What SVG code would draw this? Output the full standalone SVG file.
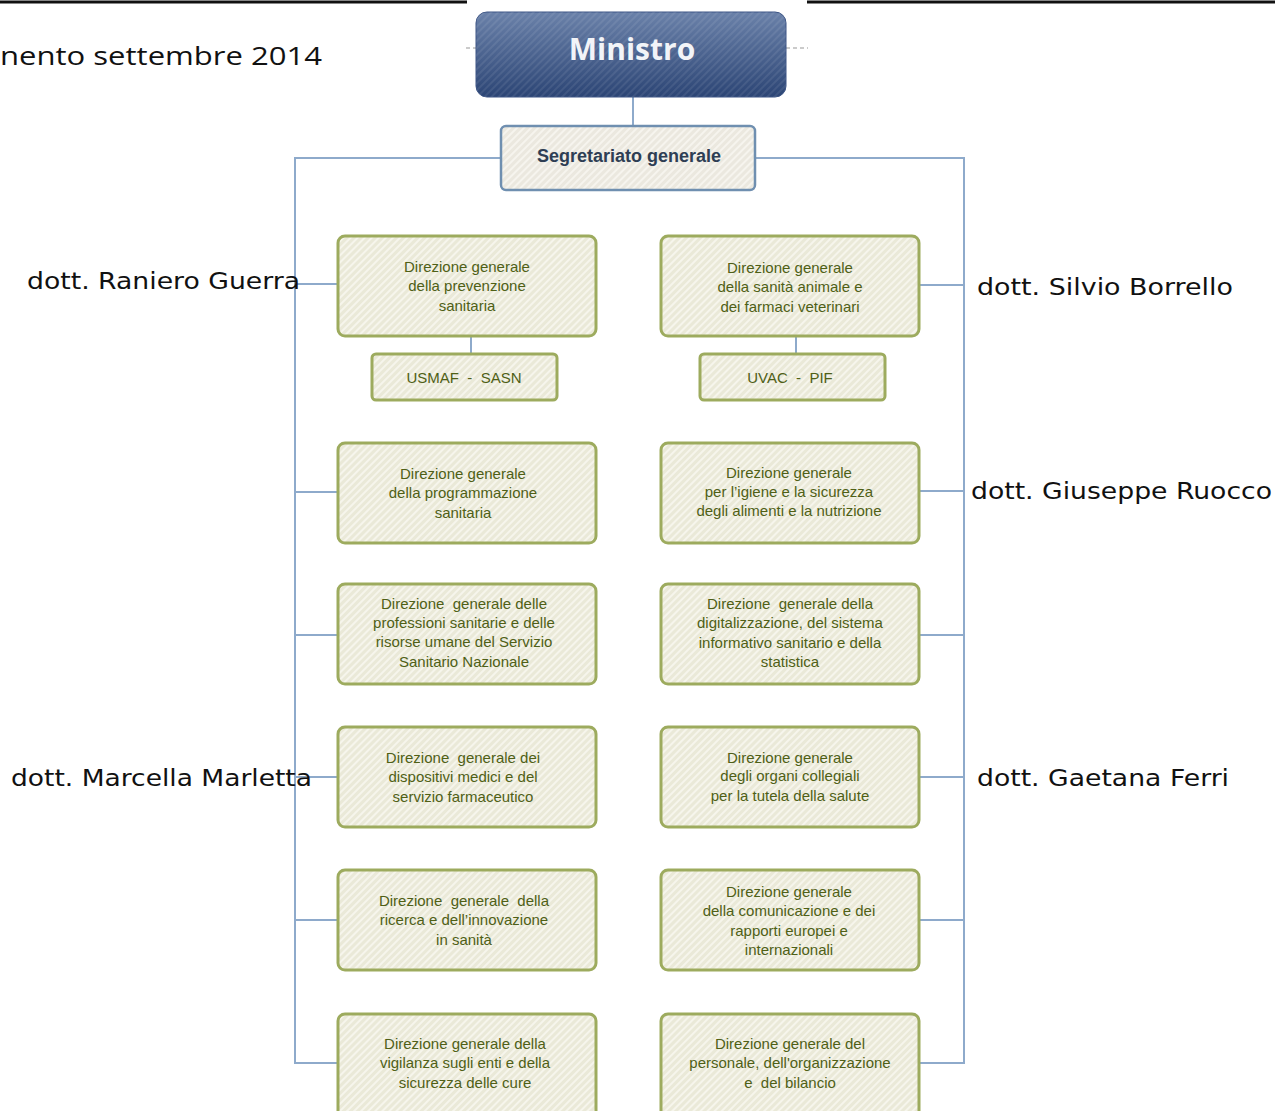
<svg xmlns="http://www.w3.org/2000/svg" width="1275" height="1111" viewBox="0 0 1275 1111">
<defs>
  <pattern id="hatch" width="5" height="5" patternUnits="userSpaceOnUse" patternTransform="rotate(45)">
    <rect width="5" height="5" fill="#eae9d8"/>
    <rect width="2" height="5" fill="#f6f5ec"/>
  </pattern>
  <pattern id="hatchS" width="5" height="5" patternUnits="userSpaceOnUse" patternTransform="rotate(45)">
    <rect width="5" height="5" fill="#ebe8df"/>
    <rect width="2" height="5" fill="#f6f4ee"/>
  </pattern>
  <linearGradient id="gMin" x1="0" y1="0" x2="0" y2="1">
    <stop offset="0" stop-color="#6a81a9"/>
    <stop offset="1" stop-color="#2c4575"/>
  </linearGradient>
  <pattern id="hatchM" width="5" height="5" patternUnits="userSpaceOnUse" patternTransform="rotate(45)">
    <rect width="2" height="5" fill="#ffffff" fill-opacity="0.08"/>
  </pattern>
</defs>
<style>
  .box { fill: url(#hatch); stroke: #9dab5e; stroke-width: 3; }
  .t { font-family: "Liberation Sans", Arial, sans-serif; font-size: 15px; fill: #4f6016; text-anchor: middle; white-space: pre; }
  .lab { font-family: "DejaVu Sans", Verdana, sans-serif; font-size: 23px; fill: #111; }
  .con { stroke: #8eaacb; stroke-width: 2; fill: none; }
</style>
<rect width="1275" height="1111" fill="#ffffff"/>
<g id="topbar">
  <line x1="0" y1="2" x2="467" y2="2" stroke="#111" stroke-width="3"/>
  <line x1="807" y1="2" x2="1275" y2="2" stroke="#111" stroke-width="3"/>
</g>
<text id="title" x="0" y="65" font-family="'Open Sans', 'Liberation Sans', sans-serif" font-size="26" fill="#111" textLength="322" lengthAdjust="spacingAndGlyphs">nento settembre 2014</text>

<g id="connectors">
  <line x1="466" y1="48" x2="476" y2="48" stroke="#bbbbbb" stroke-width="1.5" stroke-dasharray="4,3"/>
  <line x1="786" y1="48" x2="808" y2="48" stroke="#bbbbbb" stroke-width="1.5" stroke-dasharray="4,3"/>
  <line class="con" x1="633" y1="97" x2="633" y2="126"/>
  <polyline class="con" points="500,158 295,158 295,1063 338,1063"/>
  <polyline class="con" points="755,158 964,158 964,1063 920,1063"/>
  <line class="con" x1="295" y1="284" x2="338" y2="284"/>
  <line class="con" x1="295" y1="492" x2="338" y2="492"/>
  <line class="con" x1="295" y1="635" x2="338" y2="635"/>
  <line class="con" x1="295" y1="777" x2="338" y2="777"/>
  <line class="con" x1="295" y1="920" x2="338" y2="920"/>
  <line class="con" x1="919" y1="285" x2="964" y2="285"/>
  <line class="con" x1="919" y1="491" x2="964" y2="491"/>
  <line class="con" x1="919" y1="635" x2="964" y2="635"/>
  <line class="con" x1="919" y1="777" x2="964" y2="777"/>
  <line class="con" x1="919" y1="920" x2="964" y2="920"/>
  <line class="con" x1="471" y1="336" x2="471" y2="354"/>
  <line class="con" x1="796" y1="336" x2="796" y2="354"/>
</g>

<g id="ministro">
  <rect x="476" y="12" width="310" height="85" rx="11" fill="url(#gMin)" stroke="#3d5585" stroke-width="1"/>
  <rect x="476" y="12" width="310" height="85" rx="11" fill="url(#hatchM)"/>
  <text x="632" y="60" font-family="'Open Sans', 'Liberation Sans', sans-serif" font-size="30" font-weight="bold" fill="#f2f4f8" text-anchor="middle">Ministro</text>
</g>

<g id="segretariato">
  <rect x="501" y="126" width="254" height="64" rx="5" fill="url(#hatchS)" stroke="#6f8fb0" stroke-width="2.5"/>
  <text x="629" y="162" font-family="'Liberation Sans', Arial, sans-serif" font-size="18" font-weight="bold" fill="#2e3e54" text-anchor="middle">Segretariato generale</text>
</g>

<g id="dg-prevenzione">
  <rect class="box" x="338" y="236" width="258" height="100" rx="7"/>
  <text class="t" x="467" y="272">Direzione generale</text>
  <text class="t" x="467" y="291">della prevenzione</text>
  <text class="t" x="467" y="311">sanitaria</text>
</g>
<g id="dg-sanita-animale">
  <rect class="box" x="661" y="236" width="258" height="100" rx="7"/>
  <text class="t" x="790" y="273">Direzione generale</text>
  <text class="t" x="790" y="292">della sanità animale e</text>
  <text class="t" x="790" y="312">dei farmaci veterinari</text>
</g>
<g id="usmaf">
  <rect class="box" x="372" y="354" width="185" height="46" rx="4"/>
  <text class="t" x="464" y="383">USMAF  -  SASN</text>
</g>
<g id="uvac">
  <rect class="box" x="700" y="354" width="185" height="46" rx="4"/>
  <text class="t" x="790" y="383">UVAC  -  PIF</text>
</g>
<g id="dg-programmazione">
  <rect class="box" x="338" y="443" width="258" height="100" rx="7"/>
  <text class="t" x="463" y="479">Direzione generale</text>
  <text class="t" x="463" y="498">della programmazione</text>
  <text class="t" x="463" y="518">sanitaria</text>
</g>
<g id="dg-igiene">
  <rect class="box" x="661" y="443" width="258" height="100" rx="7"/>
  <text class="t" x="789" y="478">Direzione generale</text>
  <text class="t" x="789" y="497">per l’igiene e la sicurezza</text>
  <text class="t" x="789" y="516">degli alimenti e la nutrizione</text>
</g>
<g id="dg-professioni">
  <rect class="box" x="338" y="584" width="258" height="100" rx="7"/>
  <text class="t" x="464" y="609">Direzione  generale delle</text>
  <text class="t" x="464" y="628">professioni sanitarie e delle</text>
  <text class="t" x="464" y="647">risorse umane del Servizio</text>
  <text class="t" x="464" y="667">Sanitario Nazionale</text>
</g>
<g id="dg-digitalizzazione">
  <rect class="box" x="661" y="584" width="258" height="100" rx="7"/>
  <text class="t" x="790" y="609">Direzione  generale della</text>
  <text class="t" x="790" y="628">digitalizzazione, del sistema</text>
  <text class="t" x="790" y="648">informativo sanitario e della</text>
  <text class="t" x="790" y="667">statistica</text>
</g>
<g id="dg-dispositivi">
  <rect class="box" x="338" y="727" width="258" height="100" rx="7"/>
  <text class="t" x="463" y="763">Direzione  generale dei</text>
  <text class="t" x="463" y="782">dispositivi medici e del</text>
  <text class="t" x="463" y="802">servizio farmaceutico</text>
</g>
<g id="dg-organi">
  <rect class="box" x="661" y="727" width="258" height="100" rx="7"/>
  <text class="t" x="790" y="763">Direzione generale</text>
  <text class="t" x="790" y="781">degli organi collegiali</text>
  <text class="t" x="790" y="801">per la tutela della salute</text>
</g>
<g id="dg-ricerca">
  <rect class="box" x="338" y="870" width="258" height="100" rx="7"/>
  <text class="t" x="464" y="906">Direzione  generale  della</text>
  <text class="t" x="464" y="925">ricerca e dell’innovazione</text>
  <text class="t" x="464" y="945">in sanità</text>
</g>
<g id="dg-comunicazione">
  <rect class="box" x="661" y="870" width="258" height="100" rx="7"/>
  <text class="t" x="789" y="897">Direzione generale</text>
  <text class="t" x="789" y="916">della comunicazione e dei</text>
  <text class="t" x="789" y="936">rapporti europei e</text>
  <text class="t" x="789" y="955">internazionali</text>
</g>
<g id="dg-vigilanza">
  <rect class="box" x="338" y="1014" width="258" height="110" rx="7"/>
  <text class="t" x="465" y="1049">Direzione generale della</text>
  <text class="t" x="465" y="1068">vigilanza sugli enti e della</text>
  <text class="t" x="465" y="1088">sicurezza delle cure</text>
</g>
<g id="dg-personale">
  <rect class="box" x="661" y="1014" width="258" height="110" rx="7"/>
  <text class="t" x="790" y="1049">Direzione generale del</text>
  <text class="t" x="790" y="1068">personale, dell'organizzazione</text>
  <text class="t" x="790" y="1088">e  del bilancio</text>
</g>

<g id="labels">
  <text class="lab" x="27" y="289" textLength="273" lengthAdjust="spacingAndGlyphs">dott. Raniero Guerra</text>
  <text class="lab" x="977" y="295" textLength="256" lengthAdjust="spacingAndGlyphs">dott. Silvio Borrello</text>
  <text class="lab" x="971" y="499" textLength="301" lengthAdjust="spacingAndGlyphs">dott. Giuseppe Ruocco</text>
  <text class="lab" x="11" y="786" textLength="301" lengthAdjust="spacingAndGlyphs">dott. Marcella Marletta</text>
  <text class="lab" x="977" y="786" textLength="252" lengthAdjust="spacingAndGlyphs">dott. Gaetana Ferri</text>
</g>
</svg>
